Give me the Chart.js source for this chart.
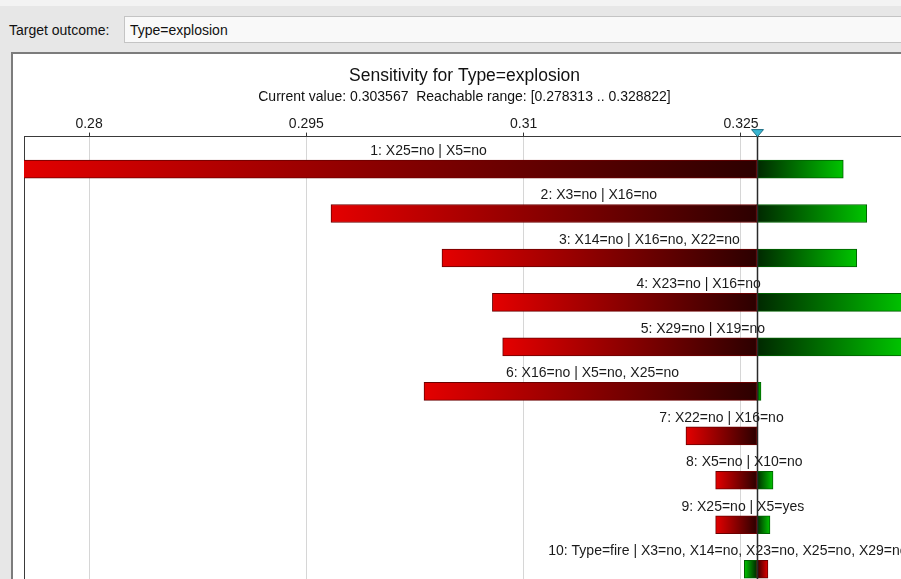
<!DOCTYPE html>
<html>
<head>
<meta charset="utf-8">
<script src="https://cdn.jsdelivr.net/npm/chart.js@4"></script>
<style>
    body { margin: 0; width: 901px; height: 579px; overflow: hidden; position: relative; background: #e7e7e7; font-family: 'Liberation Sans', Arial, sans-serif; }
    #strip { position: absolute; left: 0; top: 0; width: 901px; height: 6px; background: #f3f3f3; }
    #lbl { position: absolute; left: 9px; top: 22px; font-size: 14px; color: #111; }
    #box { position: absolute; left: 124px; top: 16px; width: 800px; height: 25px; background: #f9f9f9; border: 1px solid #c4c4c4; }
    #box span { position: absolute; left: 5px; top: 5px; font-size: 14px; color: #111; }
    #panel { position: absolute; left: 11px; top: 52px; width: 940px; height: 600px; background: #fff; border-top: 2px solid #7c7c7c; border-left: 2px solid #7c7c7c; }
    #wrap { position: absolute; left: 12px; top: 54px; width: 900px; height: 525px; }
</style>
</head>
<body>
<div id="strip"></div>
<div id="lbl">Target outcome:</div>
<div id="box"><span>Type=explosion</span></div>
<div id="panel"></div>
<div id="wrap"><canvas id="sensChart"></canvas></div>
<script>
// rows of the tornado, top to bottom
const rowLabels = [
    '1: X25=no | X5=no',
    '2: X3=no | X16=no',
    '3: X14=no | X16=no, X22=no',
    '4: X23=no | X16=no',
    '5: X29=no | X19=no',
    '6: X16=no | X5=no, X25=no',
    '7: X22=no | X16=no',
    '8: X5=no | X10=no',
    '9: X25=no | X5=yes',
    '10: Type=fire | X3=no, X14=no, X23=no, X25=no, X29=no, X16=no'
];
const redEnds   = [0.2748, 0.2967, 0.30436, 0.30784, 0.30855, 0.30312, 0.3212, 0.32325, 0.32325, 0.32686];
const greenEnds = [0.33206, 0.33368, 0.33299, 0.33632, 0.33618, 0.32638, 0.32611, 0.32721, 0.327, 0.32523];
const baseValue = 0.32608;
const tickValues = [0.28, 0.295, 0.31, 0.325];
const xMin = 0.27551, xMax = 0.33632;
const yMin = 0.27, yMax = 10.22;

const FONT = "'Liberation Sans', Arial, sans-serif";

function gradientFor(ends, bright, dark) {
    return (c) => {
        const chart = c.chart;
        const x = chart.scales.x;
        if (!chart.chartArea || !x || c.dataIndex === undefined) return bright;
        const x0 = x.getPixelForValue(baseValue);
        const x1 = x.getPixelForValue(ends[c.dataIndex]);
        if (Math.abs(x1 - x0) < 1) return dark;
        const g = chart.ctx.createLinearGradient(x0, 0, x1, 0);
        g.addColorStop(0, dark);
        g.addColorStop(1, bright);
        return g;
    };
}

const overlay = {
    id: 'overlay',
    afterDatasetsDraw(chart) {
        const ctx = chart.ctx;
        const x = chart.scales.x, y = chart.scales.y;
        const area = chart.chartArea;
        ctx.save();
        ctx.font = '14px ' + FONT;
        ctx.fillStyle = '#1a1a1a';
        ctx.textAlign = 'center';
        ctx.textBaseline = 'middle';
        rowLabels.forEach((t, i) => {
            const lo = Math.min(redEnds[i], greenEnds[i], baseValue);
            const hi = Math.max(redEnds[i], greenEnds[i], baseValue);
            const cx = (x.getPixelForValue(lo) + x.getPixelForValue(hi)) / 2;
            ctx.fillText(t, cx, y.getPixelForValue(i + 1) - 18);
        });
        const bx = Math.round(x.getPixelForValue(baseValue)) + 0.5;
        ctx.strokeStyle = '#2a2a2a';
        ctx.lineWidth = 1.5;
        ctx.beginPath();
        ctx.moveTo(bx, area.top);
        ctx.lineTo(bx, area.bottom);
        ctx.stroke();
        ctx.fillStyle = '#38b6d2';
        ctx.strokeStyle = '#1d6c80';
        ctx.lineWidth = 1;
        ctx.beginPath();
        ctx.moveTo(bx - 6, area.top - 7);
        ctx.lineTo(bx + 6, area.top - 7);
        ctx.lineTo(bx, area.top);
        ctx.closePath();
        ctx.fill();
        ctx.stroke();
        ctx.restore();
    }
};

const chart = new Chart(document.getElementById('sensChart'), {
    type: 'bar',
    data: {
        datasets: [{
            label: 'low',
            data: redEnds.map((v, i) => ({ x: [v, baseValue], y: i + 1 })),
            backgroundColor: gradientFor(redEnds, '#e40000', '#2c0000'),
            borderColor: '#6a0000',
            borderWidth: 1,
            borderSkipped: false,
            grouped: false,
            barThickness: 18
        }, {
            label: 'high',
            data: greenEnds.map((v, i) => ({ x: [baseValue, v], y: i + 1 })),
            backgroundColor: gradientFor(greenEnds, '#00c400', '#002800'),
            borderColor: '#006000',
            borderWidth: 1,
            borderSkipped: false,
            grouped: false,
            barThickness: 18
        }]
    },
    options: {
        indexAxis: 'y',
        responsive: true,
        maintainAspectRatio: false,
        animation: false,
        layout: { padding: { left: 12, right: 7, top: 0, bottom: 0 } },
        plugins: {
            legend: { display: false },
            tooltip: { enabled: false },
            title: {
                display: true,
                text: 'Sensitivity for Type=explosion',
                color: '#111',
                font: { family: FONT, size: 17.5, weight: 'normal' },
                padding: { top: 12, bottom: 1 }
            },
            subtitle: {
                display: true,
                text: 'Current value: 0.303567  Reachable range: [0.278313 .. 0.328822]',
                color: '#111',
                font: { family: FONT, size: 14 },
                padding: { top: 1, bottom: 10 }
            }
        },
        scales: {
            x: {
                type: 'linear',
                position: 'top',
                min: xMin,
                max: xMax,
                afterBuildTicks: (s) => { s.ticks = tickValues.map(v => ({ value: v })); },
                ticks: {
                    color: '#1a1a1a',
                    font: { family: FONT, size: 14 },
                    padding: 0,
                    maxRotation: 0,
                    autoSkip: false,
                    callback: (v) => String(v)
                },
                grid: { color: '#d6d6d6', tickColor: '#333', tickLength: 4, lineWidth: 1 },
                border: { display: true, color: '#3a3a3a', width: 1 }
            },
            y: {
                type: 'linear',
                reverse: true,
                offset: false,
                min: yMin,
                max: yMax,
                ticks: { display: false },
                grid: { display: false, drawTicks: false, offset: false },
                border: { display: true, color: '#3a3a3a', width: 1 }
            }
        }
    },
    plugins: [overlay]
});
</script>
</body>
</html>
